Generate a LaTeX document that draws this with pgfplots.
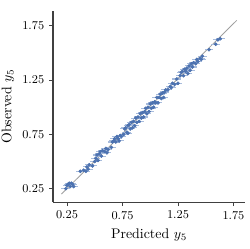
\documentclass[border=0pt]{standalone}
\usepackage{pgfplots}
\usepackage{pgfplotstable}
\pgfplotsset{compat=1.18}
\definecolor{sbblue}{HTML}{4C72B0}
\definecolor{errblue}{HTML}{A8BCDC}
\pgfplotstableread{
x y e
0.24 0.25 0.040
0.26 0.29 0.040
0.27 0.30 0.040
0.28 0.27 0.040
0.29 0.30 0.040
0.30 0.29 0.040
0.31 0.27 0.040
0.25 0.28 0.040
0.37 0.41 0.040
0.40 0.42 0.040
0.42 0.41 0.040
0.43 0.45 0.040
0.45 0.47 0.040
0.44 0.43 0.040
0.48 0.46 0.040
0.50 0.50 0.040
0.51 0.53 0.040
0.52 0.56 0.040
0.53 0.51 0.040
0.54 0.57 0.040
0.55 0.59 0.040
0.56 0.55 0.040
0.57 0.60 0.040
0.59 0.59 0.040
0.60 0.62 0.040
0.62 0.61 0.040
0.61 0.58 0.040
0.65 0.63 0.040
0.66 0.68 0.040
0.67 0.69 0.040
0.68 0.71 0.040
0.69 0.68 0.040
0.70 0.73 0.040
0.71 0.71 0.040
0.72 0.69 0.040
0.73 0.74 0.040
0.74 0.73 0.040
0.76 0.75 0.040
0.77 0.80 0.040
0.78 0.81 0.040
0.79 0.77 0.040
0.80 0.83 0.040
0.80 0.76 0.040
0.81 0.84 0.040
0.82 0.80 0.040
0.83 0.86 0.040
0.84 0.81 0.040
0.85 0.87 0.040
0.86 0.83 0.040
0.87 0.90 0.040
0.88 0.86 0.040
0.89 0.91 0.040
0.90 0.87 0.040
0.91 0.94 0.040
0.92 0.90 0.040
0.93 0.95 0.040
0.94 0.91 0.040
0.95 0.96 0.040
0.96 0.99 0.040
0.97 0.94 0.040
0.98 1.00 0.040
0.99 0.96 0.040
1.00 1.03 0.040
1.01 0.99 0.040
1.02 1.04 0.040
1.03 1.00 0.040
1.04 1.05 0.040
1.05 1.04 0.040
1.06 1.09 0.040
1.07 1.04 0.040
1.08 1.09 0.040
1.09 1.12 0.040
1.10 1.08 0.040
1.11 1.13 0.040
1.12 1.09 0.040
1.13 1.14 0.040
1.14 1.16 0.040
1.16 1.16 0.040
1.18 1.19 0.040
1.19 1.18 0.040
1.20 1.22 0.040
1.22 1.21 0.040
1.24 1.26 0.040
1.25 1.22 0.040
1.27 1.29 0.040
1.28 1.32 0.040
1.29 1.33 0.040
1.30 1.29 0.040
1.31 1.35 0.040
1.32 1.33 0.040
1.33 1.36 0.040
1.34 1.31 0.040
1.35 1.38 0.040
1.36 1.34 0.040
1.37 1.40 0.040
1.38 1.37 0.040
1.39 1.41 0.040
1.41 1.40 0.040
1.42 1.44 0.040
1.43 1.42 0.040
1.45 1.45 0.040
1.46 1.44 0.040
1.47 1.47 0.040
1.53 1.53 0.040
1.59 1.58 0.040
1.61 1.62 0.040
1.63 1.63 0.040
}\datatab
\begin{document}
\begin{tikzpicture}
\begin{axis}[
  at={(38.1pt,33.7pt)}, anchor=south west,
  width=138.1pt, height=137.4pt, scale only axis,
  xmin=0.124, xmax=1.855, ymin=0.126, ymax=1.886,
  axis x line*=bottom, axis y line*=left,
  xtick={0.25,0.75,1.25,1.75}, ytick={0.25,0.75,1.25,1.75},
  xticklabels={0.25,0.75,1.25,1.75}, yticklabels={0.25,0.75,1.25,1.75},
  tick align=outside, major tick length=2.8pt,
  tick style={black!75, line width=0.6pt},
  axis line style={black!75, line width=0.8pt},
  xlabel={Predicted $y_5$}, ylabel={Observed $y_5$},
  xlabel style={yshift=0pt}, ylabel style={yshift=-1pt},
  tick label style={font=\fontsize{8.6}{10}\selectfont},
]
\addplot[gray!75, line width=0.6pt, forget plot] coordinates {(0.2,0.2) (1.78,1.8)};
\addplot[only marks, mark=*, mark size=1.1pt, color=sbblue,
  error bars/.cd, x dir=both, x explicit,
  error bar style={errblue, line width=0.8pt}, error mark=none]
  table[x=x, y=y, x error=e] {\datatab};
\end{axis}
\pgfresetboundingbox
\path[use as bounding box] (0,0) rectangle (179pt,179pt);
\end{tikzpicture}
\end{document}
